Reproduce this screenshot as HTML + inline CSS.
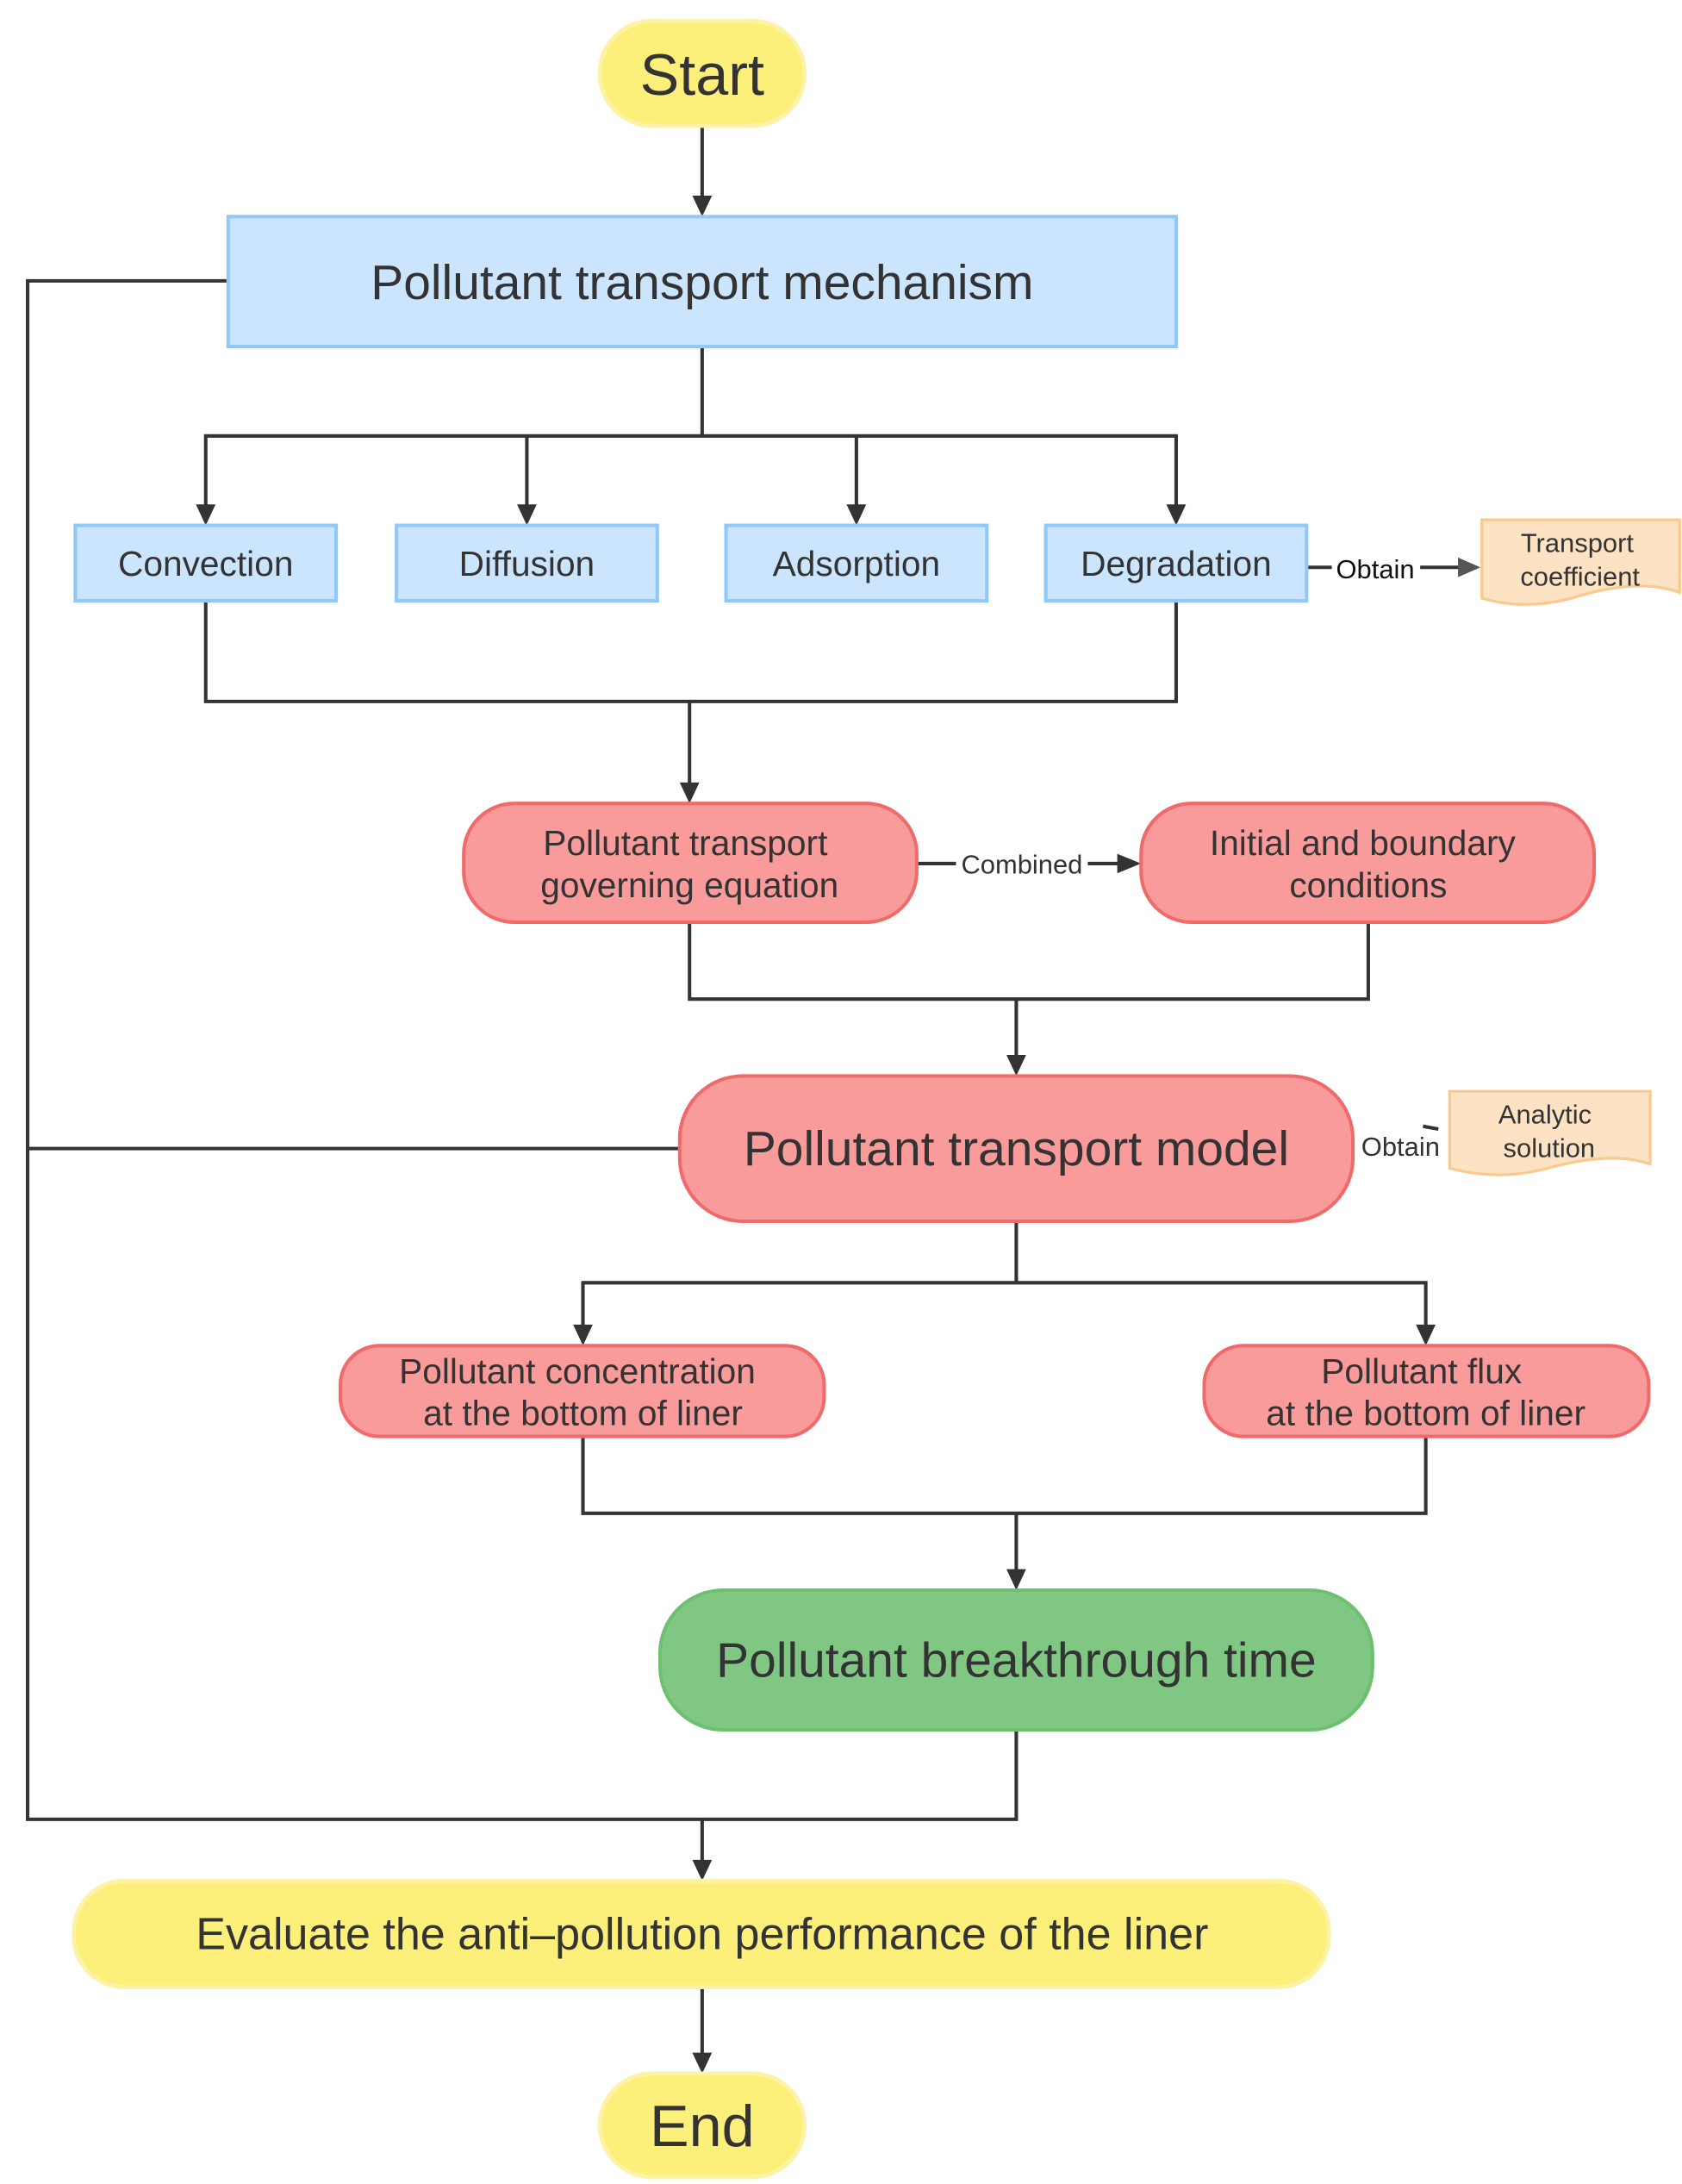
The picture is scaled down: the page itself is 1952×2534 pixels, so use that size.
<!DOCTYPE html>
<html><head><meta charset="utf-8"><style>
html,body{margin:0;padding:0;background:#fff;}
svg{display:block;}
text{font-family:"Liberation Sans","DejaVu Sans",sans-serif;fill:#333;}
</style></head><body>
<svg width="1952" height="2534" viewBox="0 0 1218 1563" preserveAspectRatio="none" xmlns="http://www.w3.org/2000/svg">
<g transform="translate(20,0) scale(1.0155,1) translate(-20,0)">
<g stroke="#333" stroke-width="2.5" fill="none">
<line x1="501" y1="90" x2="501" y2="142"/>
<polyline points="501,248 501,312"/>
<polyline points="147,364 147,312 839,312 839,364"/>
<line x1="376" y1="312" x2="376" y2="364"/>
<line x1="611" y1="312" x2="611" y2="364"/>
<polyline points="147,430 147,502 839,502 839,430"/>
<line x1="492" y1="502" x2="492" y2="563"/>
<line x1="932" y1="406" x2="950" y2="406"/>
<line x1="1013" y1="406" x2="1042" y2="406"/>
<line x1="654" y1="618" x2="682" y2="618"/>
<line x1="776" y1="618" x2="800" y2="618"/>
<polyline points="492,660 492,715 976,715 976,660"/>
<line x1="725" y1="715" x2="725" y2="758"/>
<polyline points="725,874 725,918"/>
<polyline points="416,951 416,918 1017,918 1017,951"/>
<polyline points="416,1028 416,1083 1017,1083 1017,1028"/>
<line x1="725" y1="1083" x2="725" y2="1126"/>
<polyline points="163,201 20,201 20,1302 725,1302 725,1238"/>
<line x1="20" y1="822" x2="485" y2="822"/>
<line x1="501" y1="1302" x2="501" y2="1334"/>
<line x1="501" y1="1422" x2="501" y2="1472"/>
<line x1="1015" y1="806" x2="1026" y2="808"/>
</g>
<g fill="#333">
<polygon points="494,140 508,140 501,155"/>
<polygon points="140,361 154,361 147,376"/>
<polygon points="369,361 383,361 376,376"/>
<polygon points="604,361 618,361 611,376"/>
<polygon points="832,361 846,361 839,376"/>
<polygon points="485,560 499,560 492,575"/>
<polygon points="1040,399 1040,413 1056,406" fill="#555"/>
<polygon points="797,611 797,625 814,618"/>
<polygon points="718,755 732,755 725,770"/>
<polygon points="409,948 423,948 416,963"/>
<polygon points="1010,948 1024,948 1017,963"/>
<polygon points="718,1123 732,1123 725,1138"/>
<polygon points="494,1331 508,1331 501,1346"/>
<polygon points="494,1469 508,1469 501,1484"/>
</g>
<rect x="428" y="15" width="146" height="75" rx="37" fill="#fdf07a" stroke="#fdf3a8" stroke-width="3"/>
<text x="501" y="68" font-size="42" text-anchor="middle">Start</text>
<rect x="163" y="155" width="676" height="93" fill="#cce5ff" stroke="#90c8f8" stroke-width="2.5"/>
<text x="501" y="214" font-size="35" text-anchor="middle">Pollutant transport mechanism</text>
<g fill="#cce5ff" stroke="#90c8f8" stroke-width="2.5">
<rect x="54" y="376" width="186" height="54"/>
<rect x="283" y="376" width="186" height="54"/>
<rect x="518" y="376" width="186" height="54"/>
<rect x="746" y="376" width="186" height="54"/>
</g>
<g font-size="25" text-anchor="middle">
<text x="147" y="412">Convection</text>
<text x="376" y="412">Diffusion</text>
<text x="611" y="412">Adsorption</text>
<text x="839" y="412">Degradation</text>
</g>
<text x="981" y="414" font-size="19" text-anchor="middle" style="fill:#111">Obtain</text>
<path d="M1057,372 H1198 V424 Q1170,414 1128,426 Q1090,438 1057,428 Z" fill="#fde3c4" stroke="#f9c98f" stroke-width="2"/>
<text x="1125" y="395" font-size="19" text-anchor="middle">Transport</text>
<text x="1127" y="419" font-size="19" text-anchor="middle">coefficient</text>
<g fill="#fa9b9b" stroke="#f06a6a" stroke-width="2.5">
<rect x="331" y="575" width="323" height="85" rx="36"/>
<rect x="814" y="575" width="323" height="85" rx="36"/>
<rect x="485" y="770" width="480" height="104" rx="45"/>
<rect x="243" y="963" width="345" height="65" rx="28"/>
<rect x="859" y="963" width="317" height="65" rx="28"/>
</g>
<g font-size="25" text-anchor="middle">
<text x="489" y="612">Pollutant transport</text>
<text x="492" y="642">governing equation</text>
<text x="972" y="612">Initial and boundary</text>
<text x="976" y="642">conditions</text>
<text x="412" y="990">Pollutant concentration</text>
<text x="416" y="1020">at the bottom of liner</text>
<text x="1014" y="990">Pollutant flux</text>
<text x="1017" y="1020">at the bottom of liner</text>
</g>
<text x="729" y="625" font-size="19" text-anchor="middle">Combined</text>
<text x="725" y="834" font-size="35" text-anchor="middle">Pollutant transport model</text>
<text x="999" y="827" font-size="19" text-anchor="middle">Obtain</text>
<path d="M1034,781 H1177 V833 Q1150,824 1108,835 Q1070,846 1034,836 Z" fill="#fde3c4" stroke="#f9c98f" stroke-width="2"/>
<text x="1102" y="804" font-size="19" text-anchor="middle">Analytic</text>
<text x="1105" y="828" font-size="19" text-anchor="middle">solution</text>
<rect x="471" y="1138" width="508" height="100" rx="45" fill="#7fc783" stroke="#6cc070" stroke-width="2.5"/>
<text x="725" y="1200" font-size="35" text-anchor="middle">Pollutant breakthrough time</text>
<rect x="53" y="1346" width="895" height="76" rx="36" fill="#fdf07a" stroke="#fdf3a8" stroke-width="3"/>
<text x="501" y="1395" font-size="32" text-anchor="middle">Evaluate the anti–pollution performance of the liner</text>
<rect x="428" y="1484" width="146" height="74" rx="37" fill="#fdf07a" stroke="#fdf3a8" stroke-width="3"/>
<text x="501" y="1536" font-size="42" text-anchor="middle">End</text>
</g>
</svg>
</body></html>
